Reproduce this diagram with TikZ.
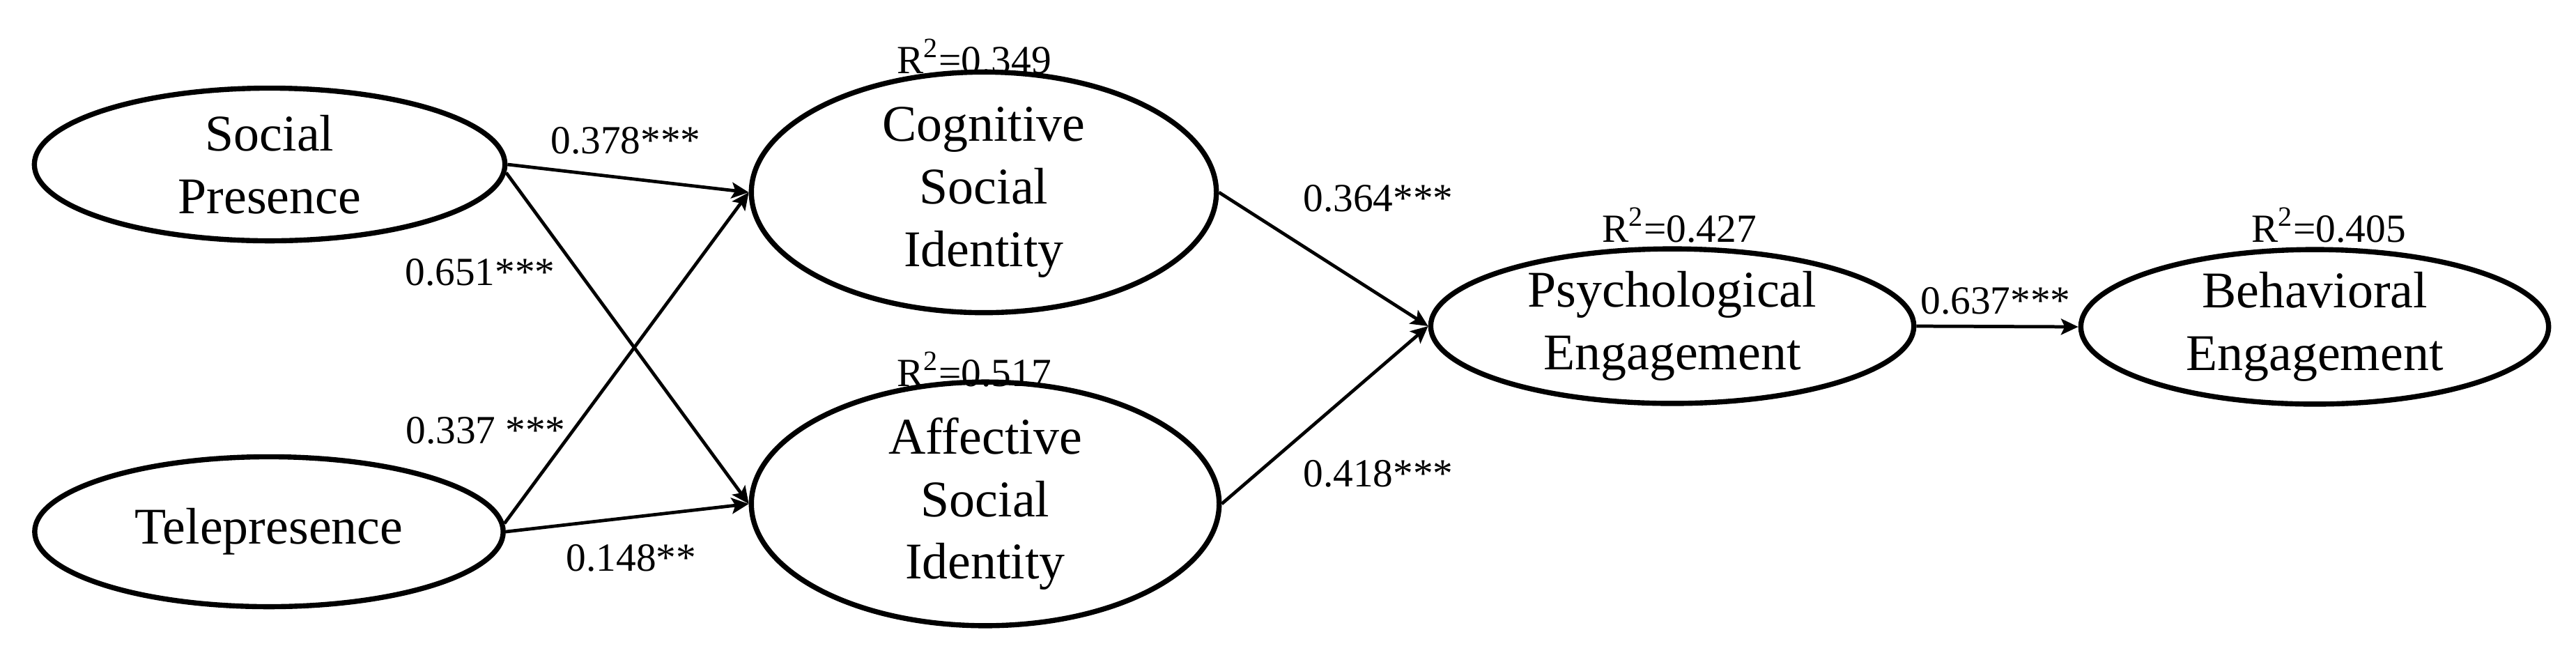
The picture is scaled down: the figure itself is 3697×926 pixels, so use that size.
\documentclass[tikz,border=0pt]{standalone}
\usepackage{fontspec}
\setmainfont{Liberation Serif}
\usetikzlibrary{shapes.geometric,arrows.meta}
\begin{document}
\begin{tikzpicture}[x=0.01cm,y=-0.01cm,
  latent/.style={draw, ellipse, line width=2.1pt, inner sep=0pt, align=center,
    font=\fontsize{21}{25.5}\selectfont},
  coef/.style={font=\fontsize{16.3}{19}\selectfont, inner sep=0pt, anchor=base},
  arrowpath/.style={line width=1.35pt, -{Stealth[length=7pt,width=6.5pt,inset=1.5pt]}}]
\useasboundingbox (0,0) rectangle (3697,926);
\node[latent, minimum width=6.75cm, minimum height=2.19cm] (sp) at (387,236) {Social\\Presence};
\node[latent, minimum width=6.72cm, minimum height=2.15cm] (tp) at (386,763) {Telepresence};
\node[latent, minimum width=6.67cm, minimum height=2.93cm] (csi) at (1412,276) {Cognitive\\Social\\Identity};
\node[latent, minimum width=6.71cm, minimum height=2.95cm] (asi) at (1414,723) {Affective\\Social\\Identity};
\node[latent, minimum width=6.93cm, minimum height=2.17cm] (pe) at (2400,468) {Psychological\\Engagement};
\node[latent, minimum width=6.71cm, minimum height=2.18cm] (be) at (3322,469) {Behavioral\\Engagement};

\draw[arrowpath] (sp.east) -- (csi.west);
\draw[arrowpath] (sp.-2) -- (asi.west);
\draw[arrowpath] (tp.2) -- (csi.west);
\draw[arrowpath] (tp.east) -- (asi.west);
\draw[arrowpath] (csi.east) -- (pe.west);
\draw[arrowpath] (asi.east) -- (pe.west);
\draw[arrowpath] (pe.east) -- (be.west);

\node[coef] (l1) at (898,220) {0.378***};
\node[coef] (l2) at (689,409) {0.651***};
\node[coef] (l3) at (697,636) {0.337 ***};
\node[coef] (l4) at (906,819) {0.148**};
\node[coef] (l5) at (1978,303) {0.364***};
\node[coef] (l6) at (1978,698) {0.418***};
\node[coef] (l7) at (2864,450) {0.637***};
\node[coef] (r1) at (1398,105) {R\textsuperscript{2}=0.349};
\node[coef] (r2) at (1398,554) {R\textsuperscript{2}=0.517};
\node[coef] (r3) at (2410,347) {R\textsuperscript{2}=0.427};
\node[coef] (r4) at (3342,347) {R\textsuperscript{2}=0.405};
\end{tikzpicture}
\end{document}
